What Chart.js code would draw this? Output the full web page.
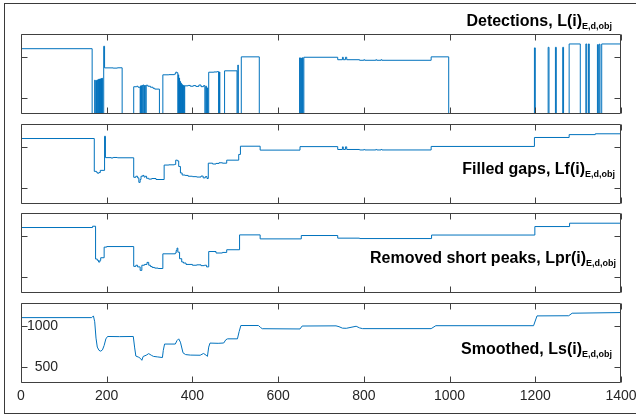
<!DOCTYPE html>
<html>
<head>
<meta charset="utf-8">
<script src="https://cdn.jsdelivr.net/npm/chart.js@4.4.0/dist/chart.umd.min.js"></script>
<style>
  body { margin: 0; background: #fff; }
  #wrap { position: relative; width: 636px; height: 415px; overflow: hidden; font-family: "Liberation Sans", Arial, sans-serif; }
  #wrap canvas { position: absolute; left: 0; top: 0; }
  .frame { position: absolute; left: 4px; top: 3px; width: 640px; height: 409px; border: 1px solid #3a3a3a; }
  .ttl { position: absolute; font-weight: bold; font-size: 16px; line-height: 16px; color: #000; white-space: nowrap; }
  .ttl span { font-size: 9px; position: relative; top: 3px; }
</style>
</head>
<body>
<div id="wrap">
  <div class="frame"></div>
  <canvas id="c1" width="636" height="415"></canvas>
  <canvas id="c2" width="636" height="415"></canvas>
  <canvas id="c3" width="636" height="415"></canvas>
  <canvas id="c4" width="636" height="415"></canvas>
  <div class="ttl" style="right:24px;top:13px">Detections, L(i)<span>E,d,obj</span></div>
  <div class="ttl" style="right:21px;top:161px">Filled gaps, Lf(i)<span>E,d,obj</span></div>
  <div class="ttl" style="right:20px;top:250px">Removed short peaks, Lpr(i)<span>E,d,obj</span></div>
  <div class="ttl" style="right:24px;top:341px">Smoothed, Ls(i)<span>E,d,obj</span></div>
</div>
<script>
// axis ticks
const xTicks = [0, 200, 400, 600, 800, 1000, 1200, 1400];
const yTicks = [500, 1000];

// raw detections (step: value holds from its x until the next x), 0 = no detection
const detX = [0, 166, 172, 173, 175, 176, 178, 179, 181, 182, 183, 184, 185, 186, 187, 188, 189, 190, 193, 195, 215, 225, 236,
  263, 270, 273, 278, 279, 281, 282, 284, 285, 287, 288, 291, 292, 296, 302, 308, 312, 323,
  331, 345, 358, 361, 364, 366, 367, 368, 369, 370, 371, 372, 373, 374, 375, 376, 377, 378, 379, 381,
  382, 390, 395, 402, 408, 415, 420, 426, 429, 431, 433, 435, 436,
  438, 450, 458, 461, 463, 464, 475, 504, 506, 507, 514, 556,
  650, 652, 654, 655, 657, 658, 660, 739, 750, 752, 757, 760, 790, 800, 802, 828, 830, 840, 842, 957, 998,
  1198, 1200, 1230, 1232, 1247, 1249, 1264, 1266, 1279, 1305, 1318, 1320, 1324, 1326, 1345, 1347, 1349, 1351, 1355, 1400];
const detY = [1100, 0, 715, 0, 712, 0, 718, 0, 725, 0, 728, 0, 730, 0, 735, 0, 738, 0, 1130, 865, 862, 866, 0,
  634, 640, 628, 0, 645, 0, 650, 0, 655, 0, 648, 0, 652, 640, 628, 615, 605, 0,
  780, 782, 790, 812, 805, 0, 780, 0, 740, 0, 700, 0, 680, 0, 665, 0, 655, 0, 650, 0,
  645, 650, 640, 648, 638, 655, 635, 648, 0, 640, 0, 620, 0,
  812, 815, 820, 0, 815, 0, 829, 0, 900, 0, 1000, 0,
  988, 0, 985, 0, 990, 0, 995, 965, 995, 965, 995, 965, 958, 965, 958, 965, 958, 965, 958, 1000, 0,
  1110, 0, 1117, 0, 1117, 0, 1117, 0, 1158, 0, 1158, 0, 1158, 0, 1150, 0, 1155, 0, 1158, 1158];

// gaps filled
const fillX = [0, 171, 176, 178, 182, 185, 195, 197, 210, 215, 225, 263, 268, 272, 275, 278, 280, 284, 287, 290, 293, 298, 305, 315,
  334, 345, 358, 361, 365, 368, 372, 376, 383, 390, 400, 410, 420, 425, 430, 434, 437, 447, 455, 462, 470, 480, 508, 512, 558,
  651, 739, 750, 752, 757, 760, 790, 800, 802, 828, 830, 840, 842, 957, 1198, 1279, 1340, 1400];
const fillY = [1102, 700, 690, 678, 685, 712, 1130, 868, 864, 870, 866, 627, 640, 620, 565, 600, 640, 650, 630, 640, 615, 605, 612, 600,
  777, 780, 785, 837, 828, 760, 680, 655, 650, 640, 635, 630, 642, 620, 635, 612, 800, 790, 797, 805, 800, 837, 907, 1008, 960,
  1003, 968, 1000, 968, 1000, 968, 962, 968, 962, 968, 962, 968, 962, 1005, 1115, 1150, 1160, 1165];

// short peaks removed
const peakX = [0, 167, 174, 178, 181, 184, 186, 194, 200, 263, 268, 272, 278, 282, 288, 294, 298, 302, 306, 312, 320,
  331, 360, 362, 364, 366, 370, 375, 379, 385, 400, 410, 420, 428, 433, 438, 455, 470, 480, 510, 558,
  654, 739, 790, 958, 1199, 1280, 1400];
const peakY = [1102, 1118, 716, 700, 679, 700, 732, 862, 869, 626, 640, 620, 577, 640, 650, 675, 640, 625, 613, 605, 600,
  780, 790, 820, 850, 800, 720, 680, 667, 650, 640, 645, 635, 640, 620, 808, 790, 797, 830, 1012, 963,
  1004, 972, 967, 1010, 1114, 1155, 1163];

// smoothed
const smoothX = [0, 165, 169, 172, 175, 178, 182, 186, 190, 194, 198, 202, 230, 262, 265, 268, 275, 279, 282, 285, 292, 298, 304, 309, 318, 330,
  332, 335, 360, 364, 368, 372, 378, 384, 395, 418, 426, 432, 435, 438, 441, 460, 473, 478, 482, 505, 509, 513, 554, 559, 563,
  651, 656, 735, 742, 750, 759, 770, 782, 790, 797, 957, 968, 1196, 1204, 1278, 1286, 1400];
const smoothY = [1101, 1101, 1122, 1050, 850, 740, 700, 690, 705, 760, 840, 870, 868, 870, 740, 630, 615, 600, 578, 625, 640, 660, 640, 626, 620, 612,
  700, 777, 777, 820, 841, 800, 670, 648, 642, 640, 662, 640, 626, 740, 789, 786, 790, 830, 841, 841, 930, 1004, 1004, 980, 965,
  962, 998, 1000, 990, 972, 970, 982, 995, 975, 966, 966, 1002, 1002, 1122, 1124, 1155, 1163];

Chart.defaults.font.family = '"Liberation Sans", Arial, sans-serif';

const boxTicks = {
  id: 'boxTicks',
  afterDatasetsDraw(chart) {
    const { ctx, chartArea: a, scales: { x, y } } = chart;
    const L = Math.round(a.left) + 0.5, R = Math.round(a.right) - 0.5;
    const T = Math.round(a.top) + 0.5, B = Math.round(a.bottom) - 0.5;
    ctx.save();
    ctx.strokeStyle = '#404040';
    ctx.lineWidth = 1;
    ctx.beginPath();
    ctx.rect(L, T, R - L, B - T);
    xTicks.forEach(v => {
      const px = Math.round(x.getPixelForValue(v)) + 0.5;
      ctx.moveTo(px, T); ctx.lineTo(px, T + 6);
      ctx.moveTo(px, B); ctx.lineTo(px, B - 6);
    });
    yTicks.forEach(v => {
      const py = Math.round(y.getPixelForValue(v)) + 0.5;
      ctx.moveTo(L, py); ctx.lineTo(L + 6, py);
      ctx.moveTo(R, py); ctx.lineTo(R - 6, py);
    });
    ctx.stroke();
    ctx.restore();
  }
};

function makePanel(id, xs, ys, top, bottom, stepped, labels) {
  new Chart(document.getElementById(id), {
    type: 'line',
    data: {
      datasets: [{
        data: xs.map((x, i) => ({ x: x, y: ys[i] })),
        borderColor: '#0072BD',
        borderWidth: 1,
        pointRadius: 0,
        stepped: stepped,
        tension: 0,
        fill: false
      }]
    },
    options: {
      responsive: false,
      animation: false,
      events: [],
      layout: { autoPadding: false, padding: { left: 21, right: 15, top: top, bottom: labels ? 0 : 415 - bottom } },
      plugins: { legend: { display: false }, tooltip: { enabled: false } },
      scales: {
        x: {
          type: 'linear', min: 0, max: 1400,
          afterBuildTicks: s => { s.ticks = xTicks.map(v => ({ value: v })); },
          afterFit: s => {
            s.height = labels ? 415 - bottom : 0;
            s.paddingLeft = 0; s.paddingRight = 0;
          },
          grid: { display: false, drawTicks: false },
          border: { display: false },
          ticks: {
            display: labels, color: '#262626', font: { size: 14 }, padding: 5, maxRotation: 0, autoSkip: false,
            callback: v => String(v)
          }
        },
        y: {
          min: 300, max: 1280,
          afterBuildTicks: s => { s.ticks = yTicks.map(v => ({ value: v })); },
          afterFit: s => {
            s.width = 0;
            s.paddingTop = 0; s.paddingBottom = 0;
          },
          grid: { display: false, drawTicks: false },
          border: { display: false },
          ticks: {
            display: labels, mirror: true, padding: 6, color: '#262626', font: { size: 14 },
            callback: v => String(v).padStart(4, '\u2007')
          }
        }
      }
    },
    plugins: [boxTicks]
  });
}

makePanel('c1', detX, detY, 34, 114, 'before', false);
makePanel('c2', fillX, fillY, 124, 204, 'before', false);
makePanel('c3', peakX, peakY, 213, 293, 'before', false);
makePanel('c4', smoothX, smoothY, 303, 383, false, true);
</script>
</body>
</html>
